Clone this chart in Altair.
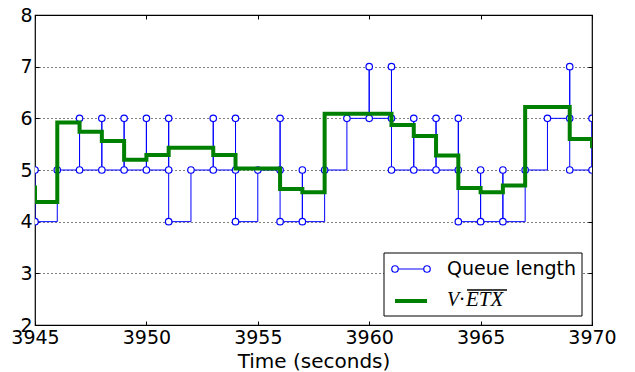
import altair as alt
import pandas as pd

# Queue length samples (several samples may share one second)
q_time = [3945, 3945, 3946, 3947, 3947, 3948, 3948, 3949, 3949, 3950, 3950,
          3951, 3951, 3951, 3952, 3953, 3953, 3954, 3954, 3954, 3955,
          3956, 3956, 3956, 3957, 3957, 3958, 3959, 3960, 3960,
          3961, 3961, 3961, 3962, 3962, 3963, 3963, 3964, 3964, 3964,
          3965, 3965, 3966, 3966, 3967, 3968, 3969, 3969, 3969, 3970, 3970]
q_len = [5, 4, 5, 6, 5, 6, 5, 6, 5, 6, 5,
         6, 5, 4, 5, 6, 5, 6, 5, 4, 5,
         6, 5, 4, 5, 4, 5, 6, 7, 6,
         7, 6, 5, 6, 5, 6, 5, 6, 5, 4,
         5, 4, 5, 4, 5, 6, 7, 6, 5, 6, 5]

# V * ETX (step series, one value per second)
g_time = [3944, 3945, 3946, 3947, 3948, 3949, 3950, 3951, 3952, 3953, 3954,
          3955, 3956, 3957, 3958, 3959, 3960, 3961, 3962, 3963, 3964,
          3965, 3966, 3967, 3968, 3969, 3970]
g_val = [4.66, 4.38, 5.92, 5.74, 5.56, 5.20, 5.29, 5.43, 5.43, 5.29, 5.03,
         5.03, 4.63, 4.57, 6.09, 6.09, 6.09, 5.87, 5.66, 5.28, 4.65,
         4.57, 4.70, 6.22, 6.22, 5.60, 5.42]

x_ticks = [3945, 3950, 3955, 3960, 3965, 3970]
y_ticks = [2, 3, 4, 5, 6, 7, 8]

qdf = pd.DataFrame({"t": q_time, "q": q_len, "i": list(range(len(q_time)))})
gdf = pd.DataFrame({"t": g_time, "v": g_val, "i": list(range(len(g_time)))})
dummy = pd.DataFrame({"a": [0]})

FONT = "DejaVu Sans"
xscale = alt.Scale(domain=[3945, 3970], nice=False, zero=False)
yscale = alt.Scale(domain=[2, 8], nice=False, zero=False)

x_bottom = alt.Axis(orient="bottom", values=x_ticks, format="d", offset=-4, tickSize=4,
                    domain=False, grid=False, tickColor="black", labelColor="black",
                    labelFont=FONT, labelFontSize=19, labelPadding=3, labelOverlap=False,
                    labelFlush=False, title="Time (seconds)", titleFont=FONT, titleFontSize=20,
                    titleFontWeight="normal", titleColor="black", titlePadding=4)
y_left = alt.Axis(orient="left", values=y_ticks, format="d", offset=-4, tickSize=4,
                  domain=False, grid=True, gridDash=[1, 3], gridColor="black", gridOpacity=1,
                  gridWidth=1, tickColor="black", labelColor="black", labelFont=FONT,
                  labelFontSize=19, labelPadding=3, labelOverlap=False, labelFlush=False,
                  title=None)
x_top = alt.Axis(orient="top", values=x_ticks, offset=-4, tickSize=4, domain=False,
                 grid=False, labels=False, tickColor="black", title=None)
y_right = alt.Axis(orient="right", values=y_ticks, offset=-4, tickSize=4, domain=False,
                   grid=False, labels=False, tickColor="black", title=None)

blue = alt.Chart(qdf).mark_line(interpolate="step-after", color="#0000ff",
                                strokeWidth=1, clip=True).encode(
    x=alt.X("t:Q", scale=xscale, axis=x_bottom),
    y=alt.Y("q:Q", scale=yscale, axis=y_left),
    order=alt.Order("i:Q"),
)
pts = alt.Chart(qdf).mark_point(shape="circle", filled=True, fill="white", stroke="#0000ff",
                                strokeWidth=1.2, size=42, opacity=1, clip=True).encode(
    x=alt.X("t:Q", scale=xscale, axis=None),
    y=alt.Y("q:Q", scale=yscale, axis=None),
)
green = alt.Chart(gdf).mark_line(interpolate="step-after", color="#008000",
                                 strokeWidth=4, clip=True).encode(
    x=alt.X("t:Q", scale=xscale, axis=x_top),
    y=alt.Y("v:Q", scale=yscale, axis=y_right),
    order=alt.Order("i:Q"),
)

# Legend (drawn in plot pixel space)
base = alt.Chart(dummy)
leg_box = base.mark_rect(fill="white", stroke="black", strokeWidth=1).encode(
    x=alt.value(349), x2=alt.value(547), y=alt.value(238), y2=alt.value(301))
leg_bline = base.mark_rule(color="#0000ff", strokeWidth=1).encode(
    x=alt.value(360), x2=alt.value(392), y=alt.value(254))
leg_bp1 = base.mark_point(shape="circle", filled=True, fill="white", stroke="#0000ff",
                          strokeWidth=1.2, size=42, opacity=1).encode(
    x=alt.value(360), y=alt.value(254))
leg_bp2 = base.mark_point(shape="circle", filled=True, fill="white", stroke="#0000ff",
                          strokeWidth=1.2, size=42, opacity=1).encode(
    x=alt.value(392), y=alt.value(254))
leg_gline = base.mark_rule(color="#008000", strokeWidth=4).encode(
    x=alt.value(360), x2=alt.value(392), y=alt.value(286))
leg_t1 = base.mark_text(text="Queue length", font=FONT, fontSize=19, align="left",
                        baseline="alphabetic", color="black").encode(
    x=alt.value(412), y=alt.value(260))
leg_t2 = base.mark_text(text="V·", font="Liberation Serif", fontSize=20, fontStyle="italic",
                        align="left", baseline="alphabetic", color="black").encode(
    x=alt.value(412), y=alt.value(291))
leg_t3 = base.mark_text(text="ETX", font="Liberation Serif", fontSize=21, fontStyle="italic",
                        align="left", baseline="alphabetic", color="black").encode(
    x=alt.value(431), y=alt.value(291))
leg_over = base.mark_rule(color="black", strokeWidth=1.5).encode(
    x=alt.value(432), x2=alt.value(472), y=alt.value(275))

chart = alt.layer(
    blue, pts, green,
    leg_box, leg_bline, leg_bp1, leg_bp2, leg_gline, leg_t1, leg_t2, leg_t3, leg_over,
).resolve_axis(x="independent", y="independent").properties(
    width=557, height=310,
    autosize=alt.AutoSizeParams(type="none"),
    padding={"left": 27, "top": 7, "right": 30, "bottom": 47},
    background="white",
).configure_view(stroke="black", strokeWidth=1.2)

chart.save("out.html", embed_options={"renderer": "svg", "actions": False})
